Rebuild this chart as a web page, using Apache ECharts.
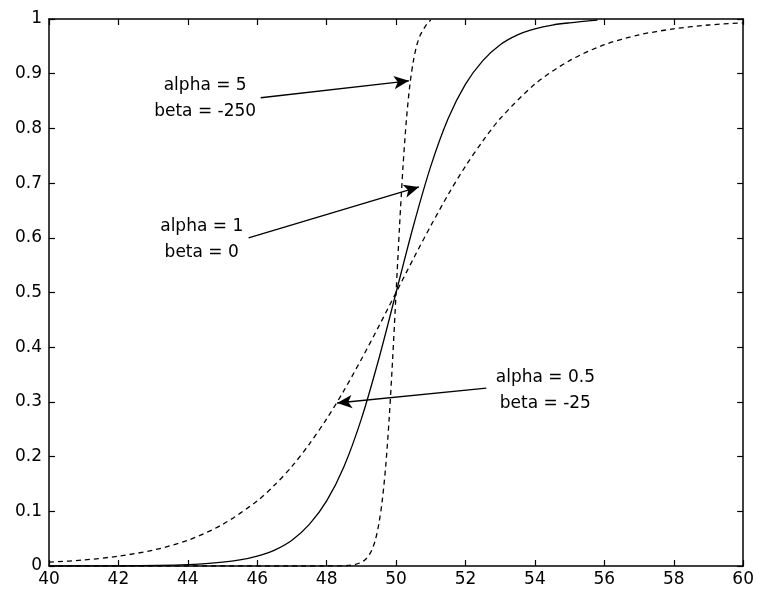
<!DOCTYPE html>
<html>
<head>
<meta charset="utf-8">
<script src="https://cdn.jsdelivr.net/npm/echarts@6/dist/echarts.min.js"></script>
<style>html,body{margin:0;padding:0;background:#fff}#c{width:757px;height:592px}</style>
</head>
<body>
<div id="c"></div>
<script>
// Wide dashed curve (alpha = 0.5, beta = -25)
const wideX = [40,41,42,43,44,45,46,46.5,47,47.5,48,48.5,49,49.5,50,50.5,51,51.5,52,52.5,53,54,55,56,57,58,59,60];
const wideY = [0.007,0.011,0.018,0.029,0.047,0.076,0.119,0.148,0.182,0.223,0.269,0.321,0.378,0.438,0.5,0.562,0.622,0.679,0.731,0.777,0.818,0.881,0.924,0.953,0.971,0.982,0.989,0.993];
// Solid curve (alpha = 1, beta = 0)
const solidX = [40,42,44,45,45.5,46,46.5,47,47.5,48,48.5,49,49.5,50,50.5,51,51.5,52,52.5,53,53.5,54,54.5,55,55.8];
const solidY = [0.0000,0.0003,0.0025,0.007,0.011,0.018,0.029,0.047,0.076,0.119,0.182,0.269,0.378,0.5,0.622,0.731,0.818,0.881,0.924,0.953,0.971,0.982,0.989,0.993,0.998];
// Steep dashed curve (alpha = 5, beta = -250)
const steepX = [40,48,48.4,48.6,48.8,49,49.1,49.2,49.3,49.4,49.5,49.6,49.7,49.8,49.9,50,50.1,50.2,50.3,50.4,50.5,50.6,50.7,50.8,50.9,51];
const steepY = [0,0.0000,0.0003,0.0009,0.0025,0.0067,0.011,0.018,0.029,0.047,0.076,0.119,0.182,0.269,0.378,0.5,0.622,0.731,0.818,0.881,0.924,0.953,0.971,0.982,0.992,0.998];
// Annotations: text anchor and arrows [tailX, tailY, tipX, tipY]
const labelTexts = ['alpha = 5\nbeta = -250', 'alpha = 1\nbeta = 0', 'alpha = 0.5\nbeta = -25'];
const labelPos = [[44.5, 0.854], [44.4, 0.596], [54.3, 0.321]];
const arrows = [[46.1, 0.856, 50.37, 0.887], [45.75, 0.600, 50.66, 0.693], [52.6, 0.325, 48.3, 0.298]];
const xTicks = {min: 40, max: 60, interval: 2};
const yTicks = {min: 0, max: 1, interval: 0.1};

const zip = (xs, ys) => xs.map((x, i) => [x, ys[i]]);
const font = 'DejaVu Sans';
const chart = echarts.init(document.getElementById('c'));
const axisCommon = {
  axisLine: {show: true, onZero: false, lineStyle: {color: '#000', width: 1.5}},
  axisTick: {show: true, inside: true, length: 6, lineStyle: {color: '#000', width: 1.2}},
  splitLine: {show: false}
};
chart.setOption({
  animation: false,
  backgroundColor: '#fff',
  grid: {left: 49, top: 19, right: 12, bottom: 26, containLabel: false},
  xAxis: [
    Object.assign({type: 'value', min: xTicks.min, max: xTicks.max, interval: xTicks.interval, position: 'bottom',
      axisLabel: {color: '#000', fontFamily: font, fontSize: 17, margin: 5, showMaxLabel: true, showMinLabel: true}}, axisCommon),
    Object.assign({type: 'value', min: xTicks.min, max: xTicks.max, interval: xTicks.interval, position: 'top',
      axisLabel: {show: false}}, axisCommon)
  ],
  yAxis: [
    Object.assign({type: 'value', min: yTicks.min, max: yTicks.max, interval: yTicks.interval, position: 'left',
      axisLabel: {color: '#000', fontFamily: font, fontSize: 17, margin: 7,
        formatter: v => String(Math.round(v * 10) / 10)}}, axisCommon),
    Object.assign({type: 'value', min: yTicks.min, max: yTicks.max, interval: yTicks.interval, position: 'right',
      axisLabel: {show: false}}, axisCommon)
  ],
  series: [
    {type: 'line', data: zip(wideX, wideY), smooth: 0.3, showSymbol: false, symbol: 'none',
      lineStyle: {color: '#000', width: 1.3, type: [5, 4]}},
    {type: 'line', data: zip(solidX, solidY), smooth: 0.3, showSymbol: false, symbol: 'none',
      lineStyle: {color: '#000', width: 1.3}},
    {type: 'line', data: zip(steepX, steepY), smooth: 0.3, showSymbol: false, symbol: 'none',
      lineStyle: {color: '#000', width: 1.3, type: [5, 4]},
      markLine: {
        silent: true, animation: false,
        symbol: ['none', 'arrow'], symbolSize: [10, 15],
        lineStyle: {color: '#000', width: 1.3, type: 'solid'},
        label: {show: false},
        data: arrows.map(a => [{coord: [a[0], a[1]]}, {coord: [a[2], a[3]]}])
      },
      markPoint: {
        silent: true, animation: false, symbol: 'circle', symbolSize: 0,
        data: labelTexts.map((t, i) => ({coord: labelPos[i], value: t,
          label: {show: true, formatter: t, color: '#000', fontFamily: font, fontSize: 17,
            lineHeight: 26, align: 'center', verticalAlign: 'middle', position: 'inside'}}))
      }
    }
  ]
});
</script>
</body>
</html>
